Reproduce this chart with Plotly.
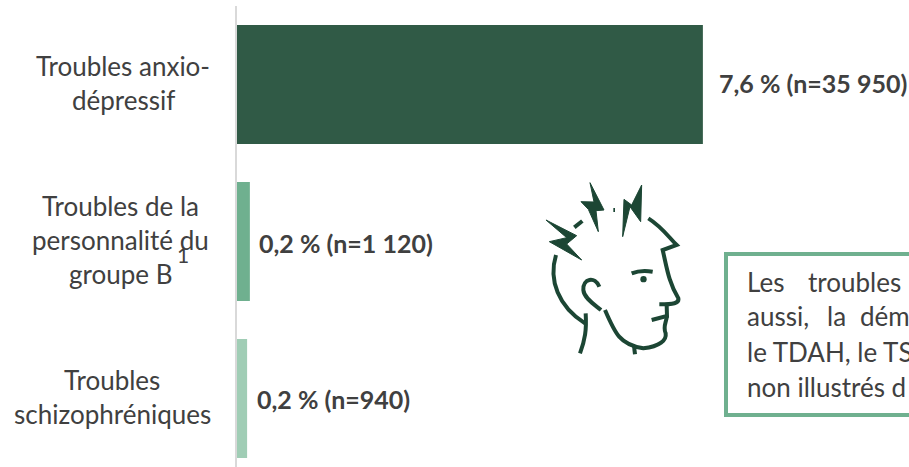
import plotly.graph_objects as go

categories = ["Troubles anxio-|dépressif", "Troubles de la|personnalité du|groupe B", "Troubles|schizophréniques"]
values = [7.6, 0.21, 0.165]
value_labels = ["7,6 % (n=35 950)", "0,2 % (n=1 120)", "0,2 % (n=940)"]
box_words = [("Les", 745, 282), ("troubles", 806, 282),
             ("aussi,", 745, 316), ("la", 825, 316), ("dém", 858, 316),
             ("le TDAH, le TS", 745, 352), ("non illustrés d", 745, 387)]
bar_colors = ["#305A46", "#6FB08F", "#A0CDB5"]
FONT = "Lato"
TXT = "#404040"
ICON = "#1C4634"
W, H = 909, 467
L, T = 237, 6
PW, PH = W - L, H - T
STEP = 157

def px(x): return (x - L) / PW
def py(y): return 1 - (y - T) / PH
def P(x, y): return f"{px(520 + x / 3):.5f},{py(170 + y / 3):.5f}"
def path(cmds):
    out = []
    for c, pts in cmds:
        out.append(c + " ".join(P(*p) for p in pts))
    return " ".join(out)

fig = go.Figure(go.Bar(x=values, y=[0, 1, 2], orientation="h", width=119 / STEP,
                       marker=dict(color=bar_colors, line_width=0), hoverinfo="skip"))

ann = []
line_h = 34
for i, c in enumerate(categories):
    parts = c.split("|")
    cx = {0: 123, 1: 120, 2: 112}[i]
    for j, t in enumerate(parts):
        ann.append(dict(x=px(cx), xref="paper", xanchor="center", y=i, yref="y", yanchor="middle",
                        yshift=2 - ((j - (len(parts) - 1) / 2) * line_h), text=t, showarrow=False,
                        font=dict(family=FONT, size=26, color=TXT)))
ann.append(dict(x=px(183), xref="paper", y=py(255), yref="paper", xanchor="center", yanchor="middle",
                text="1", showarrow=False, font=dict(family=FONT, size=21, color=TXT)))
shifts = [14, 7, 8]
yshifts = [2, -1, 0]
for i, t in enumerate(value_labels):
    ann.append(dict(x=values[i], y=i, xref="x", yref="y", xanchor="left", yanchor="middle", xshift=shifts[i],
                    yshift=yshifts[i], text=f"<b>{t}</b>", showarrow=False,
                    font=dict(family=FONT, size=25, color=TXT)))
for t, x, y in box_words:
    ann.append(dict(x=px(x), y=py(y), xref="paper", yref="paper", xanchor="left", yanchor="middle",
                    text=t, showarrow=False, font=dict(family=FONT, size=26, color=TXT)))

shapes = [dict(type="rect", xref="paper", yref="paper", x0=px(726), x1=px(925), y0=py(254), y1=py(415),
               line=dict(color="#6FB08F", width=4), fillcolor="rgba(0,0,0,0)", layer="above")]

strokes = [
    [("M", [(385, 145)]), ("C", [(425, 170), (445, 200), (470, 225)]), ("L", [(428, 240)]),
     ("C", [(440, 290), (445, 335), (475, 385)]), ("C", [(478, 400), (460, 403), (418, 403)])],
    [("M", [(440, 405)]), ("L", [(441, 438)]), ("L", [(395, 450)])],
    [("M", [(441, 438)]), ("C", [(438, 460), (428, 470), (437, 490)]), ("C", [(440, 510), (420, 530), (370, 535)]),
     ("C", [(300, 525), (285, 490), (255, 420)])],
    [("M", [(342, 528)]), ("L", [(345, 553)])],
    [("M", [(108, 255)]), ("C", [(85, 330), (115, 410), (195, 460)])],
    [("M", [(197, 430)]), ("C", [(200, 480), (195, 510), (180, 550)])],
    [("M", [(238, 350)]), ("C", [(225, 318), (188, 325), (190, 360)]), ("C", [(192, 385), (225, 405), (243, 420)])],
    [("M", [(335, 310)]), ("C", [(360, 300), (380, 302), (398, 305)])],
    [("M", [(163, 172)]), ("L", [(187, 153)])],
    [("M", [(280, 120)]), ("L", [(285, 120)])],
]
for s in strokes:
    shapes.append(dict(type="path", xref="paper", yref="paper", path=path(s),
                       line=dict(color=ICON, width=4), fillcolor="rgba(0,0,0,0)"))
bolts = [
    [(78, 150), (170, 197), (140, 222), (185, 270), (88, 215), (140, 203)],
    [(210, 38), (252, 120), (228, 122), (235, 185), (205, 118), (183, 95), (222, 96)],
    [(365, 45), (362, 155), (330, 110), (308, 200), (312, 88), (335, 105)],
]
for b in bolts:
    shapes.append(dict(type="path", xref="paper", yref="paper",
                       path=path([("M", [b[0]])] + [("L", [p]) for p in b[1:]]) + " Z",
                       line=dict(color=ICON, width=1), fillcolor=ICON))
shapes.append(dict(type="circle", xref="paper", yref="paper",
                   x0=px(520 + 361 / 3), x1=px(520 + 380 / 3), y0=py(170 + 337 / 3), y1=py(170 + 318 / 3),
                   line_width=0, fillcolor=ICON))

fig.update_layout(
    width=W, height=H, margin=dict(l=L, r=0, t=T, b=0), paper_bgcolor="white", plot_bgcolor="white",
    showlegend=False, annotations=ann, shapes=shapes,
    xaxis=dict(range=[0, PW / 61.3], visible=False),
    yaxis=dict(range=[(PH - 78.5) / STEP, -78.5 / STEP], showticklabels=False, ticks="", showgrid=False,
               zeroline=False, showline=True, linecolor="#D9D9D9", linewidth=2),
)
fig.write_html("out.html", config=dict(displayModeBar=False),
               post_script="document.body.style.margin='0';document.body.style.overflow='hidden';")
